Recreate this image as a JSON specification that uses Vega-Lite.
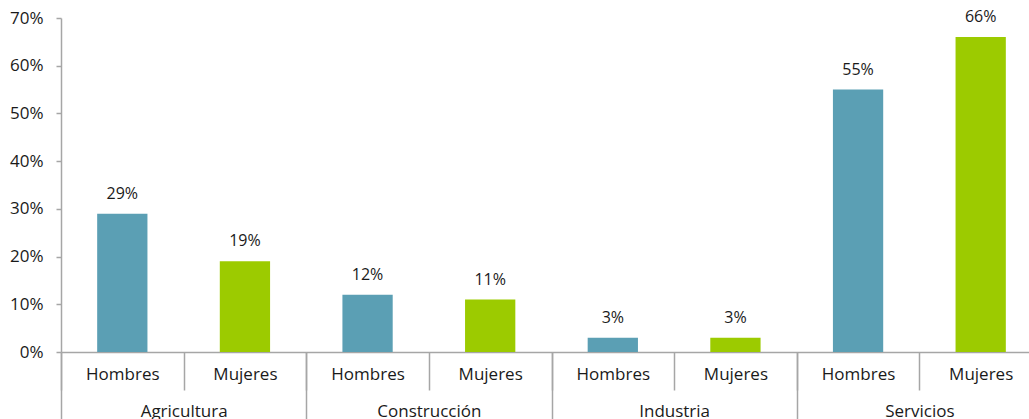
{
  "$schema": "https://vega.github.io/schema/vega-lite/v6.json",
  "autosize": {"type": "none"},
  "width": 981,
  "height": 334,
  "padding": {"left": 61, "top": 18, "right": 0, "bottom": 67},
  "config": {"view": {"stroke": null}, "font": "Open Sans"},
  "data": {
    "values": [
      {"group": "Agricultura", "sexo": "Hombres", "col": "Agricultura|Hombres", "pct": 0.29},
      {"group": "Agricultura", "sexo": "Mujeres", "col": "Agricultura|Mujeres", "pct": 0.19},
      {"group": "Construcción", "sexo": "Hombres", "col": "Construcción|Hombres", "pct": 0.12},
      {"group": "Construcción", "sexo": "Mujeres", "col": "Construcción|Mujeres", "pct": 0.11},
      {"group": "Industria", "sexo": "Hombres", "col": "Industria|Hombres", "pct": 0.03},
      {"group": "Industria", "sexo": "Mujeres", "col": "Industria|Mujeres", "pct": 0.03},
      {"group": "Servicios", "sexo": "Hombres", "col": "Servicios|Hombres", "pct": 0.55},
      {"group": "Servicios", "sexo": "Mujeres", "col": "Servicios|Mujeres", "pct": 0.66}
    ]
  },
  "layer": [
    {
      "encoding": {
        "x": {
          "field": "col",
          "type": "nominal",
          "sort": null,
          "scale": {"paddingInner": 0, "paddingOuter": 0},
          "axis": {
            "title": null,
            "orient": "bottom",
            "labelExpr": "split(datum.label, '|')[1]",
            "labelAngle": 0,
            "tickBand": "extent",
            "tickSize": 38,
            "labelPadding": -24,
            "labelFontSize": 17,
            "labelColor": "#1a1a1a",
            "domainColor": "#A6A6A6",
            "tickColor": "#A6A6A6",
            "domainWidth": 1.5,
            "tickWidth": 1.5
          }
        },
        "y": {
          "field": "pct",
          "type": "quantitative",
          "scale": {"domain": [0, 0.7], "nice": false},
          "axis": {
            "title": null,
            "format": ".0%",
            "values": [0, 0.1, 0.2, 0.3, 0.4, 0.5, 0.6, 0.7],
            "grid": false,
            "tickSize": 5,
            "labelPadding": 13,
            "labelFontSize": 17,
            "labelColor": "#1a1a1a",
            "domainColor": "#A6A6A6",
            "tickColor": "#A6A6A6",
            "domainWidth": 1.5,
            "tickWidth": 1.5
          }
        }
      },
      "layer": [
        {
          "mark": {"type": "bar", "width": {"band": 0.41}},
          "encoding": {
            "color": {
              "field": "sexo",
              "type": "nominal",
              "scale": {"domain": ["Hombres", "Mujeres"], "range": ["#5B9FB4", "#9CCB00"]},
              "legend": null
            }
          }
        },
        {
          "mark": {"type": "text", "baseline": "alphabetic", "dy": -15, "fontSize": 16, "color": "#1a1a1a"},
          "encoding": {
            "text": {"field": "pct", "type": "quantitative", "format": ".0%"}
          }
        }
      ]
    },
    {
      "mark": {"type": "point", "opacity": 0},
      "encoding": {
        "x": {
          "field": "group",
          "type": "nominal",
          "sort": null,
          "scale": {"paddingInner": 0, "paddingOuter": 0},
          "axis": {
            "title": null,
            "orient": "bottom",
            "labelAngle": 0,
            "domain": false,
            "tickBand": "extent",
            "tickSize": 67,
            "labelPadding": -16,
            "labelFontSize": 17,
            "labelColor": "#1a1a1a",
            "tickColor": "#A6A6A6",
            "tickWidth": 1.5
          }
        }
      }
    }
  ],
  "resolve": {"scale": {"x": "independent"}}
}
